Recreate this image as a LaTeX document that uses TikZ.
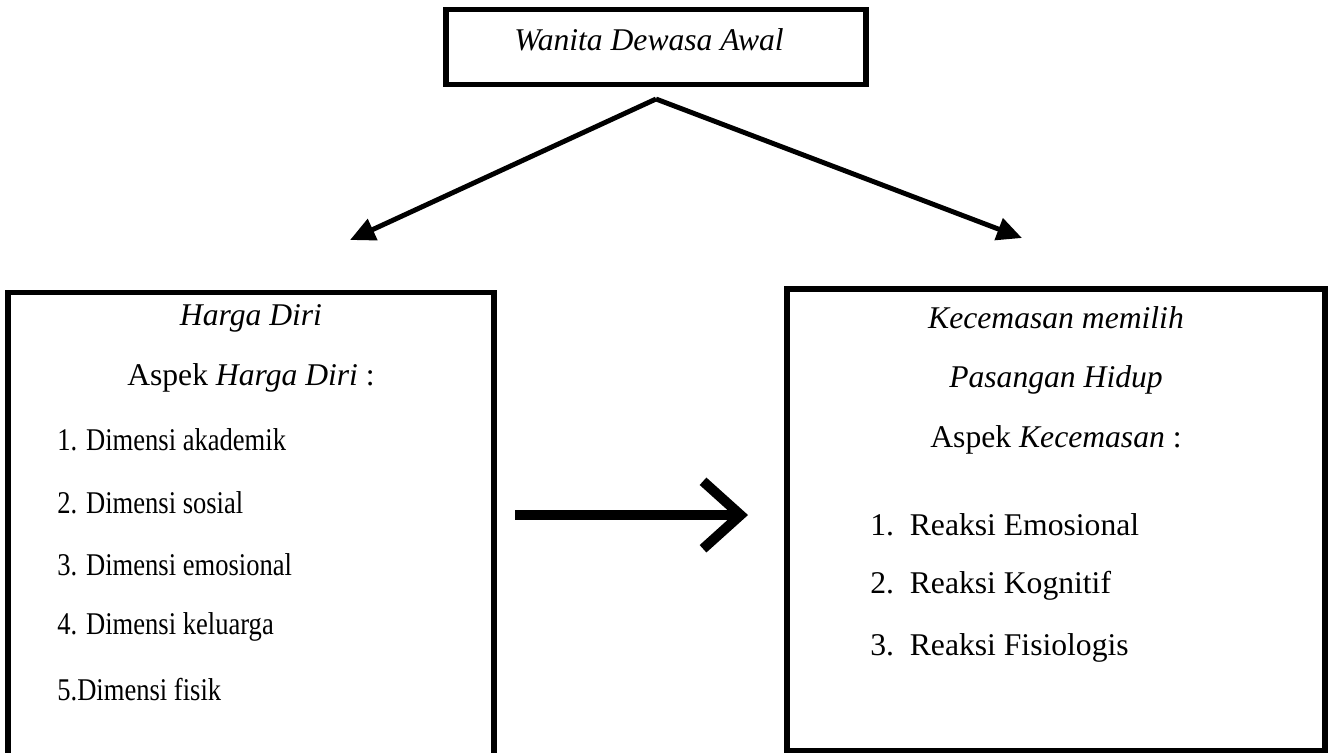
\documentclass[tikz,border=0pt]{standalone}
\usepackage{fontspec}
\setmainfont{Liberation Serif}
\newfontfamily\sempit[FakeStretch=0.84]{Liberation Serif}
\usetikzlibrary{arrows.meta}

\tikzset{
	kotak/.style={draw, line width=3.2pt, inner sep=0pt},
	teks/.style={font=\fontsize{18}{22}\selectfont, inner sep=0pt},
	daftar/.style={teks, font=\fontsize{18}{22}\sempit, anchor=west},
	panah/.style={line width=2.8pt, -{Triangle[length=0.5cm,width=0.45cm]}},
	panahbesar/.style={line width=5.7pt, -{Straight Barb[length=0.75cm,width=1.35cm]}}
}

\begin{document}
\begin{tikzpicture}[x=0.02cm,y=-0.02cm]
\useasboundingbox (0,0) rectangle (1335,752);

% kotak-kotak
\node[kotak, minimum width=8.4cm, minimum height=1.5cm] (wanita) at (656,47) {};
\node[kotak, minimum width=9.72cm, minimum height=9.54cm] (harga) at (251,531) {};
\node[kotak, minimum width=10.76cm, minimum height=9.24cm] (cemas) at (1056,520) {};

% teks atas
\node[teks] (judul) at (649,40) {\textit{Wanita Dewasa Awal}};

% teks kiri
\node[teks] (h1) at (251,318) {\textit{Harga Diri}};
\node[teks] (h2) at (251,378) {Aspek \textit{Harga Diri} :};
\node[daftar] (h3) at (57,440) {1. Dimensi akademik};
\node[daftar] (h4) at (57,503) {2. Dimensi sosial};
\node[daftar] (h5) at (57,565) {3. Dimensi emosional};
\node[daftar] (h6) at (57,627) {4. Dimensi keluarga};
\node[daftar] (h7) at (57,690) {5.Dimensi fisik};

% teks kanan
\node[teks] (c1) at (1056,318) {\textit{Kecemasan memilih}};
\node[teks] (c2) at (1056,380) {\textit{Pasangan Hidup}};
\node[teks] (c3) at (1056,440) {Aspek \textit{Kecemasan} :};
\node[teks, anchor=west] (c4) at (870,525) {1.~~Reaksi Emosional};
\node[teks, anchor=west] (c5) at (870,586) {2.~~Reaksi Kognitif};
\node[teks, anchor=west] (c6) at (870,648) {3.~~Reaksi Fisiologis};

% panah
\coordinate (puncak) at (656,99);
\coordinate (ujungkiri) at (350,240);
\coordinate (ujungkanan) at (1022,238);
\coordinate (pangkal) at (515,515);
\coordinate (ujung) at (748,515);

\draw[panah] (puncak) -- (ujungkiri);
\draw[panah] (puncak) -- (ujungkanan);
\draw[panahbesar] (pangkal) -- (ujung);
\end{tikzpicture}
\end{document}
